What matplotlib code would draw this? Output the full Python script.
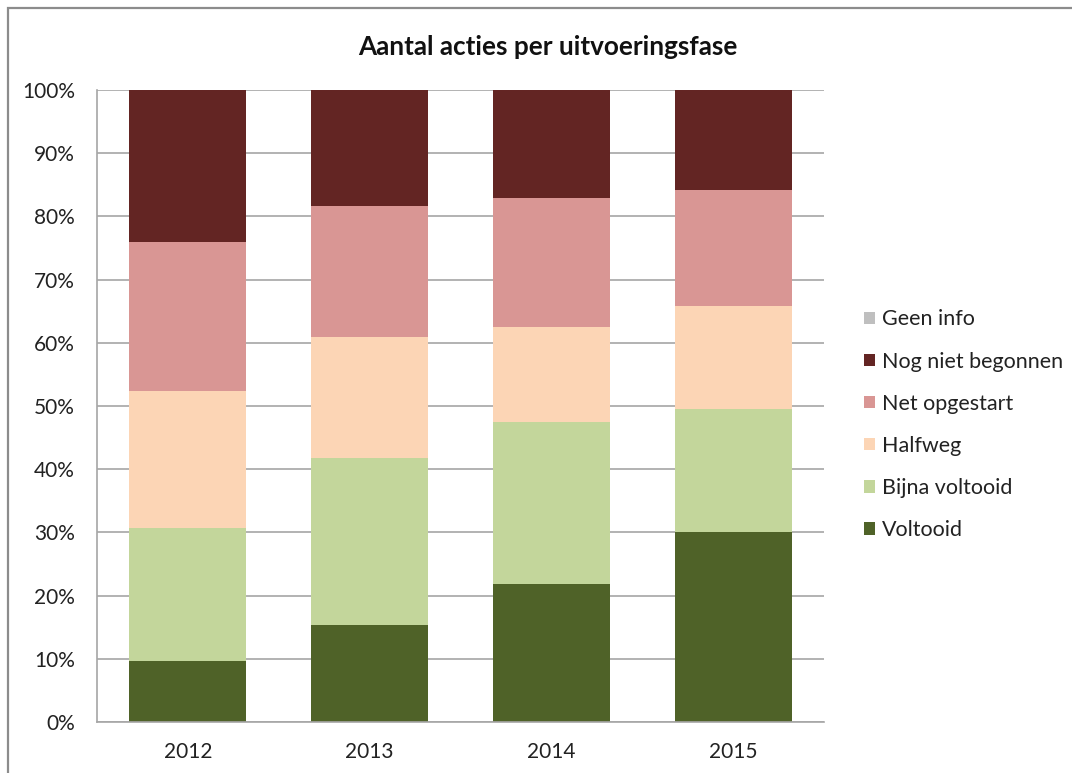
import matplotlib
matplotlib.use("Agg")
import matplotlib.pyplot as plt
from matplotlib.patches import Patch, Rectangle
from matplotlib.ticker import FuncFormatter, MultipleLocator

plt.rcParams["font.family"] = ["Lato", "DejaVu Sans"]

years = ["2012", "2013", "2014", "2015"]
voltooid = [9.7, 15.3, 21.8, 30.1]
bijna_voltooid = [21.0, 26.5, 25.7, 19.4]
halfweg = [21.7, 19.1, 15.0, 16.3]
net_opgestart = [23.5, 20.7, 20.4, 18.4]
nog_niet_begonnen = [24.1, 18.4, 17.1, 15.8]
geen_info = [0.0, 0.0, 0.0, 0.0]

series = [
    ("Voltooid", voltooid, "#4F6228"),
    ("Bijna voltooid", bijna_voltooid, "#C3D69B"),
    ("Halfweg", halfweg, "#FCD5B5"),
    ("Net opgestart", net_opgestart, "#D99694"),
    ("Nog niet begonnen", nog_niet_begonnen, "#632523"),
    ("Geen info", geen_info, "#BFBFBF"),
]

W, H = 1072, 773
fig = plt.figure(figsize=(W / 100, H / 100), dpi=100)
fig.patch.set_facecolor("white")

# outer chart border (top and left edges visible)
fig.add_artist(Rectangle((8 / W, -0.05), 1.2, (H - 8) / H + 0.05,
                         transform=fig.transFigure, fill=False,
                         edgecolor="#8c8c8c", linewidth=1.6))

left, right, top, bottom = 97, 824, 90, 722
ax = fig.add_axes([left / W, (H - bottom) / H, (right - left) / W, (bottom - top) / H])

x = range(len(years))
base = [0.0] * len(years)
for name, vals, color in series:
    ax.bar(x, vals, bottom=base, width=0.644, color=color, linewidth=0, zorder=2)
    base = [b + v for b, v in zip(base, vals)]

ax.set_xlim(-0.5, len(years) - 0.5)
ax.set_ylim(0, 100)
ax.yaxis.set_major_locator(MultipleLocator(10))
ax.yaxis.set_major_formatter(FuncFormatter(lambda v, p: f"{int(round(v))}%"))
ax.set_xticks(list(x))
ax.set_xticklabels(years)
ax.grid(axis="y", color="#a6a6a6", linewidth=1.2, zorder=0)
ax.set_axisbelow(True)
for s in ["top", "right"]:
    ax.spines[s].set_visible(False)
for s in ["left", "bottom"]:
    ax.spines[s].set_color("#a6a6a6")
    ax.spines[s].set_linewidth(1.2)
ax.tick_params(axis="both", length=0, labelsize=15, colors="#222222")
ax.tick_params(axis="y", pad=15.8)
ax.tick_params(axis="x", pad=14.5)

fig.text(548 / W, 1 - 47 / H, "Aantal acties per uitvoeringsfase",
         ha="center", va="center", fontsize=18.8, fontweight="bold", color="#111111")

handles = [Patch(facecolor=c, edgecolor="none", label=n) for n, _, c in reversed(series)]
fig.legend(handles=handles, loc="upper left",
           bbox_to_anchor=(845 / W, 1 - 290 / H), frameon=False,
           fontsize=15.5, labelspacing=1.03, handlelength=0.5, handleheight=0.5,
           handletextpad=0.3, labelcolor="#222222")

fig.savefig("out.png", dpi=100, facecolor="white")
